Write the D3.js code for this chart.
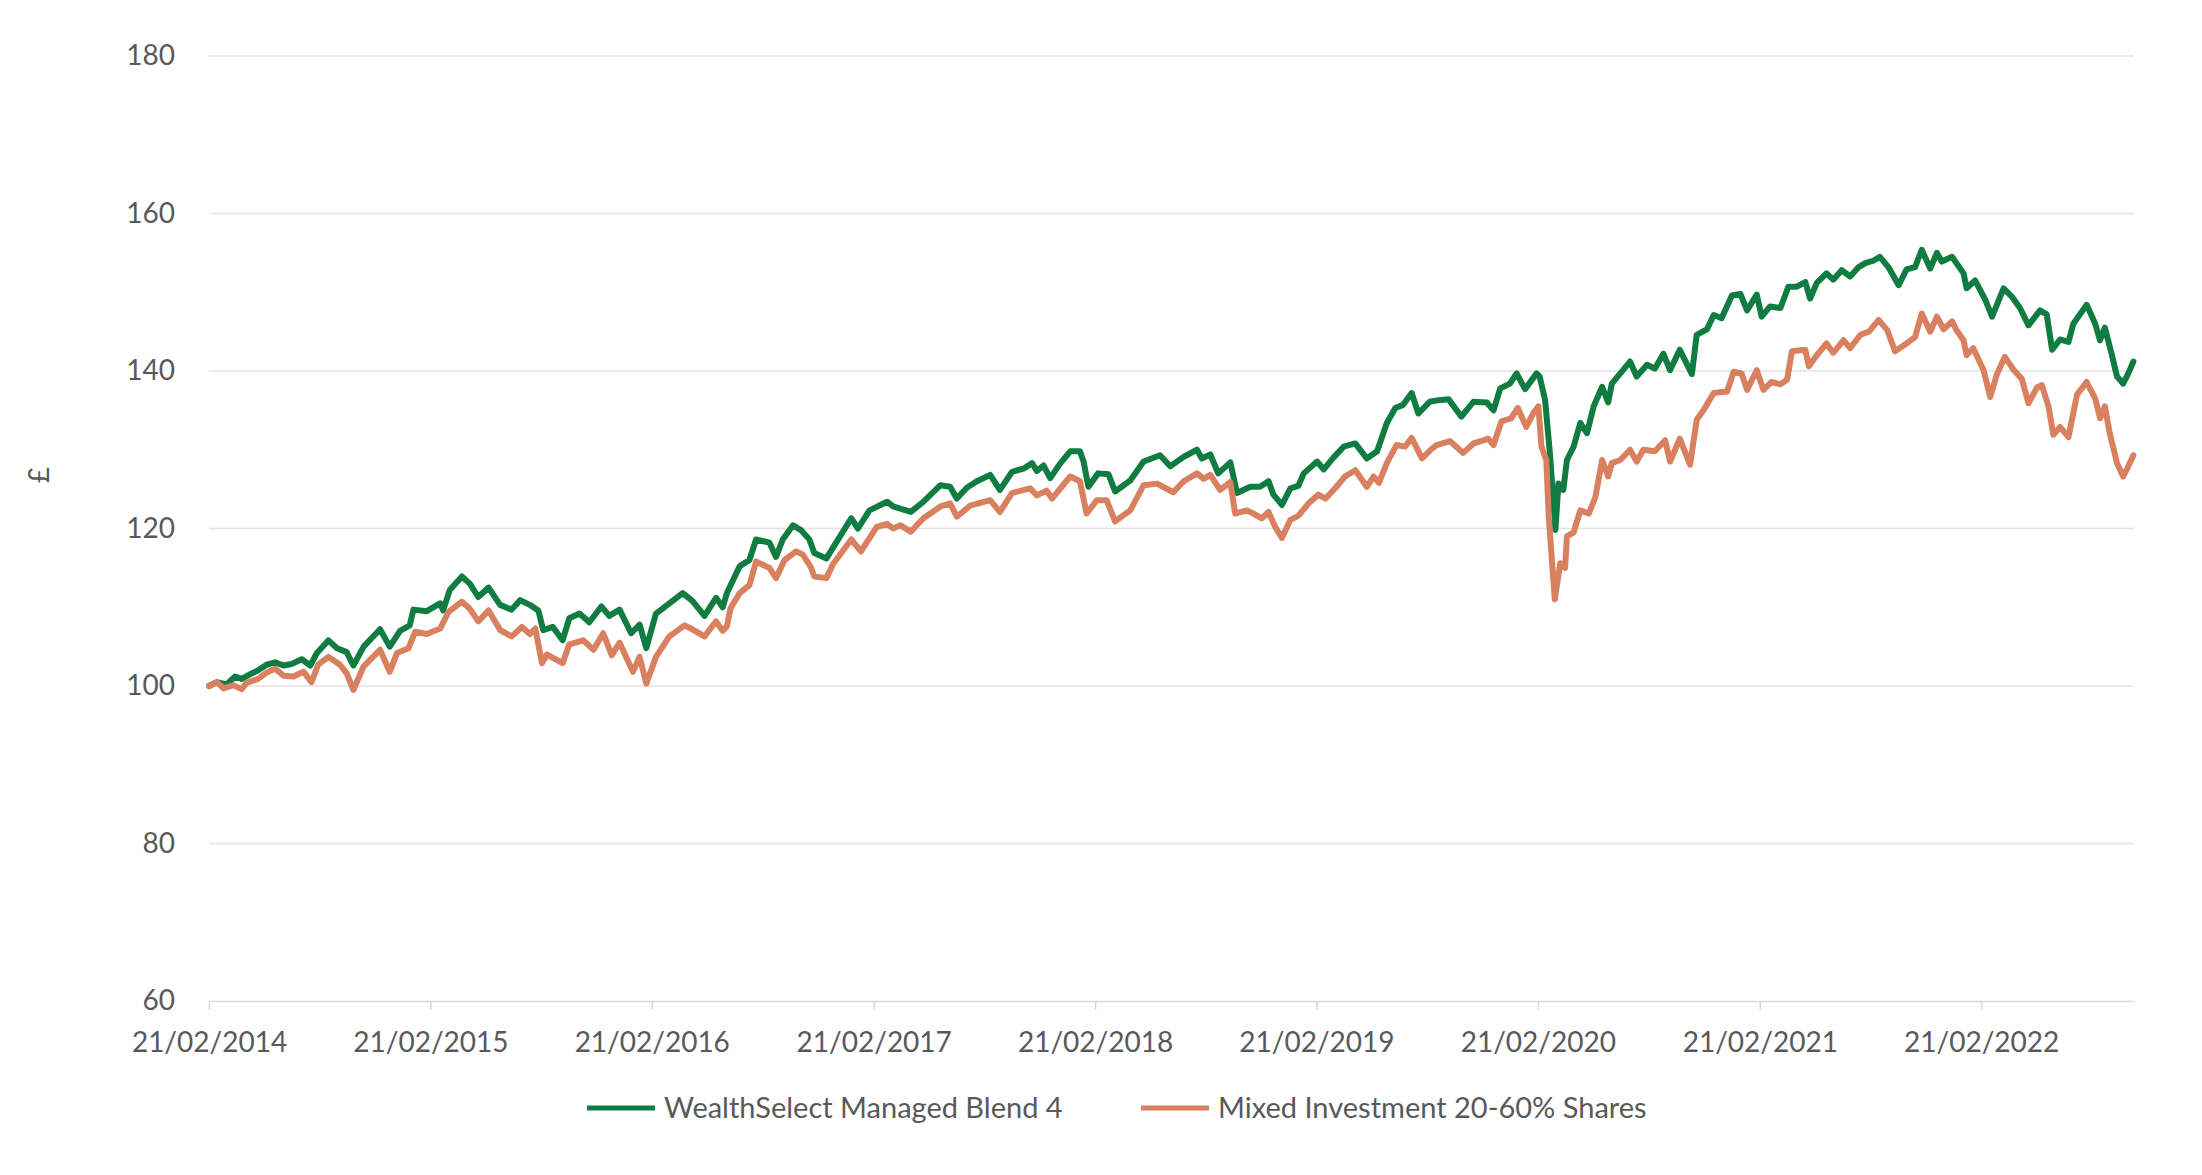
<!DOCTYPE html>
<html><head><meta charset="utf-8">
<script src="https://cdn.jsdelivr.net/npm/d3@7"></script>
<style>
body{margin:0;background:#fff;}
text{font-family:Lato,"Open Sans",sans-serif;fill:#595959;}
</style>
</head><body>
<svg id="chart" width="2202" height="1175"></svg>
<script>
const seriesNames = ["WealthSelect Managed Blend 4", "Mixed Investment 20-60% Shares"];
const seriesColors = ["#107c41", "#d8805f"];
const yAxisTitle = "£";
const yTicks = [60, 80, 100, 120, 140, 160, 180];
const xTickLabels = ["21/02/2014","21/02/2015","21/02/2016","21/02/2017","21/02/2018","21/02/2019","21/02/2020","21/02/2021","21/02/2022"];
const xDomain = ["2014-02-21", "2022-10-31"];

const wealthSelect = [
["2014-02-21",100.0],["2014-03-06",100.5],["2014-03-22",100.2],["2014-04-05",101.2],["2014-04-16",100.9],["2014-04-30",101.5],
["2014-05-13",102.0],["2014-05-27",102.7],["2014-06-10",103.0],["2014-06-24",102.6],["2014-07-07",102.8],["2014-07-24",103.4],
["2014-08-07",102.6],["2014-08-18",104.2],["2014-09-06",105.8],["2014-09-20",104.8],["2014-10-06",104.3],["2014-10-17",102.6],
["2014-11-03",105.0],["2014-11-30",107.2],["2014-12-16",105.0],["2015-01-02",107.0],["2015-01-18",107.7],["2015-01-24",109.7],
["2015-02-15",109.5],["2015-03-09",110.5],["2015-03-14",109.6],["2015-03-25",112.2],["2015-04-14",113.9],["2015-04-27",113.0],
["2015-05-11",111.3],["2015-05-28",112.5],["2015-06-16",110.3],["2015-07-05",109.7],["2015-07-19",110.9],["2015-08-04",110.3],
["2015-08-18",109.6],["2015-08-26",107.1],["2015-09-11",107.5],["2015-09-27",105.8],["2015-10-08",108.6],["2015-10-25",109.2],
["2015-11-10",108.1],["2015-11-30",110.1],["2015-12-13",108.9],["2015-12-30",109.7],["2016-01-18",106.7],["2016-02-01",107.8],
["2016-02-12",104.8],["2016-02-28",109.2],["2016-03-21",110.5],["2016-04-12",111.8],["2016-04-28",110.8],["2016-05-18",108.9],
["2016-06-06",111.2],["2016-06-17",110.0],["2016-06-24",111.8],["2016-07-15",115.2],["2016-07-31",116.0],["2016-08-11",118.6],
["2016-09-02",118.2],["2016-09-13",116.4],["2016-09-24",118.6],["2016-10-11",120.4],["2016-10-24",119.8],["2016-11-07",118.6],
["2016-11-15",116.9],["2016-12-05",116.2],["2016-12-21",118.2],["2017-01-15",121.3],["2017-01-26",120.0],["2017-02-14",122.3],
["2017-03-15",123.4],["2017-03-25",122.8],["2017-04-23",122.1],["2017-05-14",123.4],["2017-06-11",125.5],["2017-06-27",125.3],
["2017-07-08",123.8],["2017-07-25",125.2],["2017-08-10",126.0],["2017-09-01",126.8],["2017-09-17",124.9],["2017-10-07",127.2],
["2017-10-26",127.6],["2017-11-09",128.3],["2017-11-17",127.3],["2017-11-28",128.0],["2017-12-09",126.4],["2017-12-25",128.2],
["2018-01-11",129.8],["2018-01-27",129.8],["2018-02-02",128.5],["2018-02-10",125.3],["2018-02-26",127.0],["2018-03-15",126.9],
["2018-03-26",124.7],["2018-04-20",126.1],["2018-05-12",128.5],["2018-06-08",129.3],["2018-06-25",127.9],["2018-07-17",129.1],
["2018-08-08",130.0],["2018-08-16",128.9],["2018-08-30",129.4],["2018-09-12",127.0],["2018-10-02",128.4],["2018-10-13",124.5],
["2018-11-04",125.3],["2018-11-20",125.3],["2018-12-04",126.0],["2018-12-12",124.3],["2018-12-26",123.0],["2019-01-09",125.1],
["2019-01-22",125.4],["2019-01-31",127.0],["2019-02-22",128.5],["2019-03-05",127.5],["2019-03-21",129.0],["2019-04-07",130.4],
["2019-04-26",130.8],["2019-05-15",128.9],["2019-06-01",129.8],["2019-06-17",133.4],["2019-07-01",135.3],["2019-07-14",135.7],
["2019-07-28",137.2],["2019-08-08",134.6],["2019-08-27",136.1],["2019-09-10",136.3],["2019-09-27",136.4],["2019-10-18",134.2],
["2019-11-07",136.1],["2019-11-29",136.0],["2019-12-10",135.0],["2019-12-21",137.8],["2020-01-06",138.4],["2020-01-17",139.7],
["2020-01-31",137.7],["2020-02-19",139.7],["2020-02-24",139.3],["2020-03-04",136.3],["2020-03-12",129.5],["2020-03-21",119.8],
["2020-03-26",125.7],["2020-04-03",124.9],["2020-04-09",128.7],["2020-04-20",130.4],["2020-05-01",133.4],["2020-05-12",132.1],
["2020-05-23",135.5],["2020-06-06",138.0],["2020-06-16",136.0],["2020-06-22",138.4],["2020-07-06",139.7],["2020-07-22",141.2],
["2020-08-02",139.3],["2020-08-19",140.8],["2020-09-01",140.3],["2020-09-15",142.2],["2020-09-26",140.1],["2020-10-12",142.7],
["2020-11-01",139.6],["2020-11-09",144.6],["2020-11-26",145.3],["2020-12-07",147.1],["2020-12-20",146.7],["2021-01-06",149.6],
["2021-01-20",149.8],["2021-01-31",147.7],["2021-02-16",149.7],["2021-02-24",146.9],["2021-03-10",148.2],["2021-03-27",148.0],
["2021-04-09",150.7],["2021-04-23",150.7],["2021-05-07",151.3],["2021-05-15",149.2],["2021-05-26",151.2],["2021-06-11",152.4],
["2021-06-22",151.6],["2021-07-06",152.8],["2021-07-20",152.0],["2021-08-03",153.2],["2021-08-14",153.7],["2021-08-27",154.0],
["2021-09-07",154.5],["2021-09-21",153.2],["2021-10-08",150.9],["2021-10-21",152.9],["2021-11-04",153.2],["2021-11-15",155.4],
["2021-11-29",153.0],["2021-12-10",155.0],["2021-12-18",153.9],["2022-01-04",154.5],["2022-01-23",152.4],["2022-01-28",150.5],
["2022-02-11",151.5],["2022-02-28",149.0],["2022-03-11",146.9],["2022-03-30",150.5],["2022-04-13",149.4],["2022-04-26",148.0],
["2022-05-10",145.8],["2022-05-29",147.7],["2022-06-09",147.2],["2022-06-18",142.7],["2022-07-01",144.0],["2022-07-15",143.7],
["2022-07-23",146.0],["2022-08-14",148.4],["2022-08-28",146.0],["2022-09-05",143.9],["2022-09-13",145.5],["2022-09-24",142.2],
["2022-10-03",139.3],["2022-10-13",138.4],["2022-10-21",139.6],["2022-10-30",141.2]
];

const mixedInvestment = [
["2014-02-21",100.0],["2014-03-06",100.5],["2014-03-17",99.7],["2014-04-02",100.1],["2014-04-16",99.6],["2014-04-24",100.4],
["2014-05-13",100.9],["2014-05-27",101.7],["2014-06-10",102.2],["2014-06-24",101.3],["2014-07-10",101.2],["2014-07-27",101.8],
["2014-08-09",100.5],["2014-08-20",102.7],["2014-09-06",103.7],["2014-09-25",102.7],["2014-10-06",101.6],["2014-10-17",99.5],
["2014-11-03",102.5],["2014-11-30",104.6],["2014-12-16",101.8],["2014-12-28",104.2],["2015-01-16",104.8],["2015-01-27",106.9],
["2015-02-15",106.6],["2015-03-09",107.3],["2015-03-23",109.4],["2015-04-14",110.7],["2015-04-27",109.8],["2015-05-11",108.2],
["2015-05-28",109.6],["2015-06-16",107.1],["2015-07-05",106.3],["2015-07-22",107.5],["2015-08-04",106.6],["2015-08-13",107.3],
["2015-08-24",102.9],["2015-09-01",104.0],["2015-09-27",102.9],["2015-10-08",105.3],["2015-10-31",105.8],["2015-11-17",104.6],
["2015-12-03",106.7],["2015-12-17",103.9],["2015-12-30",105.5],["2016-01-21",101.8],["2016-02-01",103.7],["2016-02-12",100.3],
["2016-02-28",103.7],["2016-03-21",106.3],["2016-04-15",107.7],["2016-04-28",107.2],["2016-05-18",106.3],["2016-06-06",108.2],
["2016-06-17",107.0],["2016-06-24",107.6],["2016-06-30",109.9],["2016-07-15",111.8],["2016-07-31",112.8],["2016-08-11",115.8],
["2016-09-02",115.0],["2016-09-13",113.7],["2016-09-27",116.0],["2016-10-16",117.1],["2016-10-27",116.7],["2016-11-10",115.0],
["2016-11-15",113.9],["2016-12-05",113.7],["2016-12-16",115.5],["2017-01-15",118.6],["2017-01-31",117.1],["2017-02-26",120.2],
["2017-03-15",120.6],["2017-03-25",120.0],["2017-04-06",120.4],["2017-04-23",119.6],["2017-05-14",121.3],["2017-06-11",122.8],
["2017-06-27",123.2],["2017-07-08",121.5],["2017-07-30",122.9],["2017-09-01",123.6],["2017-09-17",122.1],["2017-10-07",124.5],
["2017-11-06",125.1],["2017-11-17",124.2],["2017-12-03",124.8],["2017-12-12",123.8],["2018-01-11",126.6],["2018-01-27",126.0],
["2018-02-07",121.9],["2018-02-24",123.6],["2018-03-12",123.6],["2018-03-26",120.9],["2018-04-20",122.3],["2018-05-12",125.5],
["2018-06-03",125.7],["2018-06-30",124.6],["2018-07-17",126.0],["2018-08-08",127.0],["2018-08-19",126.3],["2018-08-30",126.8],
["2018-09-15",124.9],["2018-10-02",125.9],["2018-10-10",121.9],["2018-10-29",122.3],["2018-11-09",121.9],["2018-11-23",121.3],
["2018-12-04",122.1],["2018-12-15",120.2],["2018-12-26",118.8],["2019-01-09",121.1],["2019-01-22",121.6],["2019-02-08",123.2],
["2019-02-24",124.3],["2019-03-08",123.8],["2019-03-26",125.3],["2019-04-09",126.6],["2019-04-26",127.4],["2019-05-15",125.3],
["2019-05-26",126.6],["2019-06-04",125.8],["2019-06-17",128.3],["2019-07-03",130.6],["2019-07-17",130.4],["2019-07-28",131.5],
["2019-08-14",128.9],["2019-08-27",129.9],["2019-09-07",130.6],["2019-09-29",131.1],["2019-10-21",129.6],["2019-11-07",130.8],
["2019-11-23",131.2],["2019-12-01",131.4],["2019-12-10",130.6],["2019-12-23",133.6],["2020-01-08",134.0],["2020-01-19",135.3],
["2020-02-02",132.9],["2020-02-14",134.7],["2020-02-22",135.5],["2020-02-27",130.4],["2020-03-06",128.7],["2020-03-10",121.5],
["2020-03-20",111.0],["2020-03-29",115.6],["2020-04-06",115.0],["2020-04-09",119.0],["2020-04-20",119.5],["2020-05-01",122.3],
["2020-05-15",121.9],["2020-05-26",124.0],["2020-06-06",128.7],["2020-06-16",126.6],["2020-06-22",128.3],["2020-07-06",128.7],
["2020-07-22",130.0],["2020-08-02",128.5],["2020-08-13",130.0],["2020-09-01",129.8],["2020-09-18",131.2],["2020-09-26",128.5],
["2020-10-12",131.4],["2020-10-29",128.1],["2020-11-09",133.8],["2020-11-20",135.0],["2020-12-07",137.2],["2020-12-29",137.4],
["2021-01-09",139.9],["2021-01-22",139.7],["2021-01-31",137.6],["2021-02-16",140.1],["2021-02-27",137.6],["2021-03-12",138.6],
["2021-03-27",138.3],["2021-04-07",138.9],["2021-04-15",142.5],["2021-05-07",142.7],["2021-05-13",140.6],["2021-05-26",142.0],
["2021-06-11",143.5],["2021-06-22",142.3],["2021-07-09",143.9],["2021-07-20",142.9],["2021-08-06",144.6],["2021-08-20",145.0],
["2021-09-05",146.5],["2021-09-19",145.2],["2021-10-02",142.5],["2021-10-21",143.5],["2021-11-04",144.3],["2021-11-15",147.3],
["2021-11-29",145.0],["2021-12-10",146.9],["2021-12-21",145.3],["2022-01-04",146.3],["2022-01-12",145.1],["2022-01-23",143.9],
["2022-01-28",142.0],["2022-02-08",142.9],["2022-02-25",140.1],["2022-03-08",136.7],["2022-03-19",139.6],["2022-04-01",141.8],
["2022-04-15",140.2],["2022-04-29",139.0],["2022-05-10",135.9],["2022-05-24",137.9],["2022-06-01",138.2],["2022-06-12",135.5],
["2022-06-20",131.9],["2022-07-01",132.9],["2022-07-15",131.6],["2022-07-29",137.0],["2022-08-14",138.6],["2022-08-28",136.5],
["2022-09-05",134.0],["2022-09-13",135.5],["2022-09-21",132.1],["2022-10-03",128.3],["2022-10-13",126.6],["2022-10-21",127.8],
["2022-10-30",129.3]
];

(function () {
const svg = d3.select("#chart");
const plotLeft = 209, plotRight = 2134, plotTop = 56, plotBottom = 1001;
const parseDate = d3.timeParse("%Y-%m-%d");
const parseTick = d3.timeParse("%d/%m/%Y");
const fmtTick = d3.timeFormat("%d/%m/%Y");

const x = d3.scaleTime().domain(xDomain.map(parseDate)).range([plotLeft, plotRight]);
const y = d3.scaleLinear().domain([60, 180]).range([plotBottom, plotTop]);

// gridlines
svg.append("g").selectAll("line").data(yTicks.filter(v => v !== 60)).join("line")
  .attr("x1", plotLeft).attr("x2", plotRight)
  .attr("y1", d => y(d)).attr("y2", d => y(d))
  .attr("stroke", "#e3e3e3").attr("stroke-width", 1.5);

// x axis
const xAxis = svg.append("g").attr("transform", `translate(0,${plotBottom})`)
  .call(d3.axisBottom(x).tickValues(xTickLabels.map(parseTick)).tickFormat(fmtTick).tickSize(9).tickSizeOuter(0));
xAxis.select(".domain").attr("stroke", "#d9d9d9").attr("stroke-width", 1.5);
xAxis.selectAll(".tick line").attr("stroke", "#d9d9d9").attr("stroke-width", 1.5);
xAxis.selectAll(".tick text").attr("y", 41).attr("dy", "0.35em")
  .style("font-size", "28px").style("font-family", "Lato, 'Open Sans', sans-serif").attr("fill", "#595959");

// y axis
const yAxis = svg.append("g").attr("transform", `translate(${plotLeft},0)`)
  .call(d3.axisLeft(y).tickValues(yTicks).tickSize(0).tickPadding(34));
yAxis.select(".domain").remove();
yAxis.selectAll(".tick text").style("font-size", "28px")
  .style("font-family", "Lato, 'Open Sans', sans-serif").attr("fill", "#595959");

// y title
svg.append("text").attr("transform", "translate(39,475) rotate(-90)")
  .attr("text-anchor", "middle").attr("dy", "0.35em").style("font-size", "28px").text(yAxisTitle);

// lines
const line = d3.line().x(d => x(parseDate(d[0]))).y(d => y(d[1])).curve(d3.curveLinear);
[wealthSelect, mixedInvestment].forEach((s, i) => {
  svg.append("path").datum(s).attr("d", line)
    .attr("fill", "none").attr("stroke", seriesColors[i]).attr("stroke-width", 6)
    .attr("stroke-linejoin", "round").attr("stroke-linecap", "round");
});

// legend
const legendX = [587, 1141];
seriesNames.forEach((n, i) => {
  const g = svg.append("g").attr("transform", `translate(${legendX[i]},1108)`);
  g.append("line").attr("x1", 0).attr("x2", 68).attr("y1", 0).attr("y2", 0)
    .attr("stroke", seriesColors[i]).attr("stroke-width", 5);
  g.append("text").attr("x", 77).attr("dy", "0.35em").style("font-size", "29px").text(n);
});
})();
</script>
</body></html>
